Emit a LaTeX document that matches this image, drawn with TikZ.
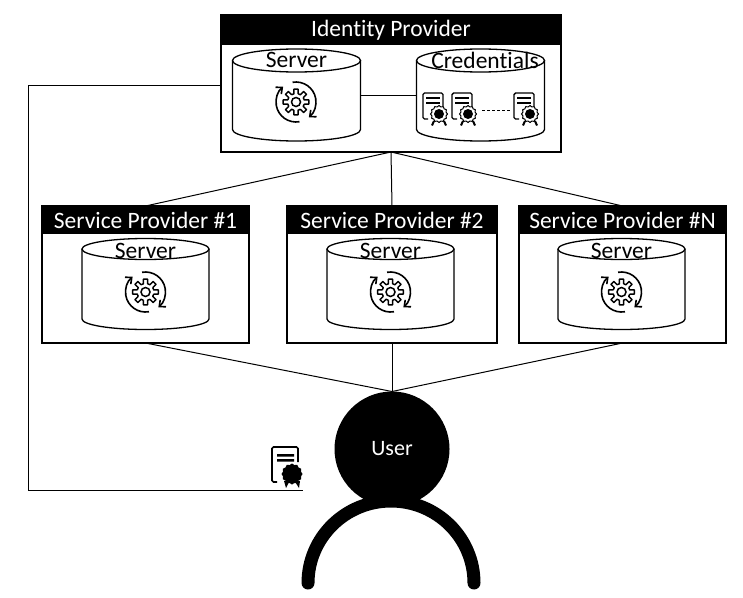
\documentclass[tikz,border=0pt]{standalone}
\usepackage{fontspec}
\setmainfont{Carlito}[Ligatures=NoCommon]
\usepackage{tikz}
\usetikzlibrary{positioning,arrows.meta}
\newcommand{\sealpath}[1]{
  (0:#1) \foreach \a in {15,30,...,345} { -- (\a:{#1-1.2+1.2*mod(\a/15+1,2)}) } -- cycle
}
\tikzset{
  frame/.style={rectangle, draw=black, fill=white, line width=1.4pt, minimum width=#1, minimum height=137pt, inner sep=0pt, outer sep=0pt},
  hdr/.style={rectangle, fill=black, text=white, font=\fontsize{23.5}{23.5}\selectfont, minimum width=#1, inner sep=0pt, outer sep=0pt},
  dbl/.style={font=\fontsize{23.5}{23.5}\selectfont, inner sep=0pt},
  dbbox/.style={rectangle, minimum width=128pt, minimum height=91pt, inner sep=0pt, outer sep=0pt},
  wire/.style={draw=black, line width=1pt},
  usr/.style={circle, fill=black, text=white, minimum size=115pt, inner sep=0pt, outer sep=0pt, font=\fontsize{22}{22}\selectfont},
  pics/drum/.style n args={3}{code={
    \draw[line width=1.3pt, fill=white] (-#1,-#3) -- (-#1,#3)
      arc[start angle=180, end angle=0, x radius=#1, y radius=#2] -- (#1,-#3);
    \draw[line width=1.3pt, fill=white] (0,-#3) ellipse [x radius=#1, y radius=#2];
  }},
  gearicon/.pic={
    \begin{scope}[yscale=-1]
    \draw[line width=1.5pt, line join=round]
      \foreach \a in {0,45,...,315} {
        (\a-14:8.5) -- (\a-9:13) arc[start angle=\a-9, end angle=\a+9, radius=13] -- (\a+14:8.5)
        arc[start angle=\a+14, end angle=\a+31, radius=8.5]
      };
    \draw[line width=1.5pt] (0,0) circle (4.5);
    \draw[line width=1.6pt, -{Straight Barb[length=5pt,width=9pt]}] (-80:20) arc[start angle=280, end angle=130, radius=20];
    \draw[line width=1.6pt, -{Straight Barb[length=5pt,width=9pt]}] (100:20) arc[start angle=100, end angle=-50, radius=20];
    \end{scope}
  },
  certicon/.pic={
    \draw[line width=1.4pt, rounded corners=1.5pt] (5,26) -- (0,26) -- (0,0) -- (20,0) -- (20,13);
    \draw[line width=1.3pt] (3,5) -- (17,5) (3,10) -- (17,10);
    \draw[line width=2pt] (11,28) -- (9,32.5) (21,28) -- (23,32.5);
    \begin{scope}[shift={(16,21)}]
      \draw[line width=1pt, fill=white] \sealpath{8.5};
      \fill circle (5);
    \end{scope}
  },
  usercert/.pic={
    \draw[line width=1.6pt, rounded corners=1.5pt] (5,35) -- (0,35) -- (0,0) -- (26,0) -- (26,15);
    \fill (5,7) rectangle (22,9.5) (5,12) rectangle (22,14.5);
    \begin{scope}[shift={(20,27)}]
      \fill[white] circle (12);
      \fill \sealpath{10.5};
    \end{scope}
    \fill (12,34) -- (18,33) -- (14,41) -- cycle (28,34) -- (22,33) -- (27,41) -- cycle;
  }
}

\begin{document}
\begin{tikzpicture}[x=1pt,y=-1pt]
  \useasboundingbox (0,0) rectangle (743,597);
  % user
  \draw[line width=13pt, line cap=round] (308,583) arc[start angle=180, end angle=360, x radius=83, y radius=82];
  \node[usr] (user) at (392,449) {User\hspace{3pt}};
  % identity provider
  \node[frame=340pt] (idp) at (391,83.5) {};
  \node[hdr=340pt, minimum height=30pt] (idphdr) at (391,30) {Identity Provider};
  \pic at (296.5,95) {drum={64}{11.5}{34.5}};
  \pic at (480.5,95) {drum={64}{11.5}{34.5}};
  \node[dbbox] (idpsrv) at (296.5,95) {};
  \node[dbbox] (idpcred) at (480.5,95) {};
  \node[dbl] at (296.5,60) {Server};
  \node[dbl] at (485,60) {Credentials};
  \pic at (296,102) {gearicon};
  \draw[wire] (idpsrv.east) -- (idpcred.west);
  \pic at (423,93) {certicon};
  \pic at (452,93) {certicon};
  \pic at (514,93) {certicon};
  \coordinate (dota) at (482,110);
  \coordinate (dotb) at (510,110);
  \draw[wire, densely dashed] (dota) -- (dotb);
  % service providers
  \node[frame=207pt] (sp1) at (145.5,274.5) {};
  \node[frame=210pt] (sp2) at (392,274.5) {};
  \node[frame=207pt] (sp3) at (622.5,274.5) {};
  \node[hdr=207pt, minimum height=28pt] at (145.5,220) {Service Provider \#1};
  \node[hdr=210pt, minimum height=28pt] at (392,220) {Service Provider \#2};
  \node[hdr=207pt, minimum height=28pt] at (622.5,220) {Service Provider \#N};
  \foreach \cx in {145.5,390.5,621.5} {
    \pic at (\cx,284) {drum={63.5}{10.5}{35}};
    \node[dbl] at (\cx,251) {Server};
    \pic at (\cx,292) {gearicon};
  }
  % connectors
  \draw[wire] (idp.south) -- (sp1.north);
  \draw[wire] (idp.south) -- (sp2.north);
  \draw[wire] (idp.south) -- (sp3.north);
  \draw[wire] (sp1.south) -- (user.north);
  \draw[wire] (sp2.south) -- (user.north);
  \draw[wire] (sp3.south) -- (user.north);
  \pic at (272,447) {usercert};
  \coordinate (certend) at (303,490);
  \draw[wire] (idp.west |- 0,85) -- (28,85) -- (28,490) -- (certend);
\end{tikzpicture}
\end{document}
